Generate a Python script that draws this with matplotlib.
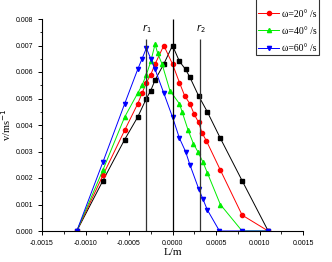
import matplotlib
matplotlib.use("Agg")
import matplotlib.pyplot as plt
from matplotlib.ticker import MultipleLocator, FormatStrFormatter

# dados
L_rest = [-0.0011, -0.0008, -0.00055, -0.0004, -0.0003, -0.00025, -0.0002, -0.0001, 0.0,
          0.00008, 0.00015, 0.0002, 0.0003, 0.0004, 0.00055, 0.0008, 0.0011]
v_rest = [0.0, 0.0019, 0.00345, 0.0043, 0.005, 0.0053, 0.0057, 0.0063, 0.007,
          0.0064, 0.0061, 0.0058, 0.0051, 0.0045, 0.0035, 0.0019, 0.0]

L_20 = [-0.0011, -0.0008, -0.00055, -0.0004, -0.00035, -0.0003, -0.00025, -0.0002, -0.0001,
        0.0, 0.00008, 0.00014, 0.0002, 0.00025, 0.0003, 0.00034, 0.00039, 0.00055, 0.0008, 0.0011]
v_20 = [0.0, 0.0021, 0.0038, 0.0048, 0.0052, 0.0056, 0.0059, 0.0063, 0.007,
        0.0063, 0.0056, 0.0051, 0.0048, 0.0044, 0.0041, 0.0037, 0.0034, 0.0023, 0.0006, 0.0]

L_40 = [-0.0011, -0.0008, -0.00055, -0.0004, -0.00035, -0.0003, -0.00025, -0.0002,
        -0.00017, -0.00012, -0.00003, 0.00008, 0.00011, 0.00018, 0.00024, 0.00029, 0.00035,
        0.0004, 0.00055, 0.0008, 0.0011]
v_40 = [0.0, 0.0023, 0.0043, 0.0052, 0.0055, 0.0059, 0.0064, 0.00705,
        0.0067, 0.0063, 0.0053, 0.0048, 0.0045, 0.0038, 0.0033, 0.003, 0.0026,
        0.0022, 0.001, 0.0, 0.0]

L_60 = [-0.0011, -0.0008, -0.00055, -0.0004, -0.00035, -0.0003, -0.00025, -0.0002, -0.0001,
        0.0, 0.00008, 0.00015, 0.0002, 0.0003, 0.00035, 0.0004, 0.00054, 0.0008, 0.0011]
v_60 = [0.0, 0.0026, 0.0048, 0.0061, 0.0065, 0.0069, 0.0065, 0.0061, 0.0052,
        0.0043, 0.0035, 0.003, 0.0025, 0.0016, 0.0012, 0.0008, 0.0, 0.0, 0.0]

r1 = -0.0003
r2 = 0.00032
r_top = 0.00725

fig = plt.figure(figsize=(3.32, 2.62), dpi=100)
ax = fig.add_axes([42/332, 1 - 231/262, 261/332, 212/262])

ms = 3.0
lw = 0.7
ax.plot(L_rest, v_rest, '-s', color='black', ms=ms, lw=lw, label='at rest')
ax.plot(L_20, v_20, '-o', color='#ff0000', ms=ms, lw=lw, label='ω=20° /s')
ax.plot(L_40, v_40, '-^', color='#00ee00', ms=ms, lw=lw, label='ω=40° /s')
ax.plot(L_60, v_60, '-v', color='#0000ff', ms=ms, lw=lw, label='ω=60° /s')

# linhas verticais
ax.vlines(0.0, 0, 0.008, color='black', lw=0.9)
ax.vlines([r1, r2], 0, r_top, color='#333333', lw=0.9)
ax.text(r1, 0.0074, r'$r_1$', ha='center', va='bottom', fontsize=7, family='Liberation Serif')
ax.text(r2, 0.0074, r'$r_2$', ha='center', va='bottom', fontsize=7, family='Liberation Serif')

ax.set_xlim(-0.0015, 0.0015)
ax.set_ylim(0, 0.008)
ax.xaxis.set_major_locator(MultipleLocator(0.0005))
ax.xaxis.set_minor_locator(MultipleLocator(0.00025))
ax.yaxis.set_major_locator(MultipleLocator(0.001))
ax.yaxis.set_minor_locator(MultipleLocator(0.0005))
ax.xaxis.set_major_formatter(FormatStrFormatter('%.4f'))
ax.yaxis.set_major_formatter(FormatStrFormatter('%.3f'))
ax.spines['top'].set_visible(False)
ax.spines['right'].set_visible(False)
ax.tick_params(labelsize=5, width=0.7, length=3, direction='out')
ax.tick_params(which='minor', width=0.6, length=1.8)
for lab in ax.get_xticklabels() + ax.get_yticklabels():
    lab.set_family('Liberation Sans')

ax.set_xlabel('L/m', fontsize=8, family='Liberation Serif', labelpad=1)
ax.set_ylabel('v/ms$^{-1}$', fontsize=7.5, family='Liberation Serif', labelpad=2)

leg = fig.legend(loc='lower left', bbox_to_anchor=(256/332, 1 - 55/262),
                 prop={'family': 'Liberation Serif', 'size': 7},
                 frameon=True, fancybox=False, edgecolor='black',
                 labelspacing=0.85, handlelength=2.2, handletextpad=0.3,
                 borderpad=0.2, borderaxespad=0)
leg.get_frame().set_linewidth(0.8)

fig.savefig('out.png', dpi=100)
